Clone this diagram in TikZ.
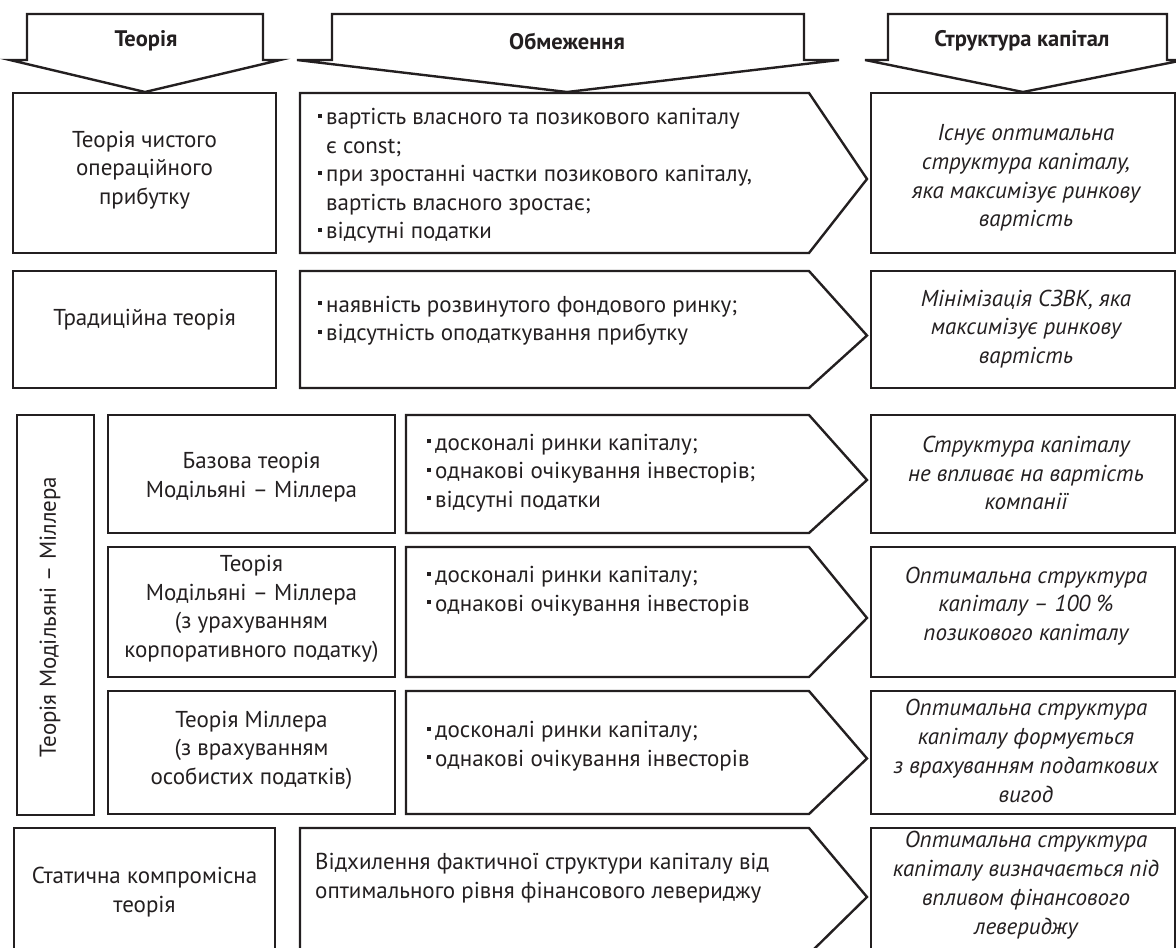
\documentclass[tikz,border=0pt]{standalone}
\usepackage{fontspec}
\setmainfont{PT Sans}
\definecolor{ink}{HTML}{231F20}
\tikzset{
  frame/.style={line width=2.4pt, line join=miter, draw=ink},
  body/.style={font=\fontsize{23}{28.5}\selectfont, text=ink, inner sep=0pt, align=center},
  lst/.style={font=\fontsize{23}{28.5}\selectfont, text=ink, inner sep=0pt, align=left, anchor=west},
  res/.style={font=\fontsize{23}{28.8}\selectfont\itshape, text=ink, inner sep=0pt, align=center},
  head/.style={font=\fontsize{22.5}{26}\selectfont\bfseries, text=ink, inner sep=0pt},
}
\newcommand{\bl}{\rule[0.3em]{4pt}{4pt}\hspace{4pt}}
\newcommand{\bi}{\hphantom{\bl}}
\newcommand{\penta}[3]{\draw[frame] (#1,#2) -- (809,#2) -- (867,{(#2+#3)/2+6}) -- (809,#3) -- (#1,#3) -- cycle;}

\begin{document}
\begin{tikzpicture}[x=1pt,y=-1pt]
\useasboundingbox (0,0) rectangle (1176,948);
\clip (0,0) rectangle (1176,948);

% header arrows
\draw[frame] (27,14) -- (263,14) -- (263,60) -- (280,60) -- (145,92) -- (10,60) -- (27,60) -- cycle;
\draw[frame] (332,14) -- (804,14) -- (804,60) -- (839,60) -- (567,92) -- (297,60) -- (332,60) -- cycle;
\draw[frame] (888,14) -- (1167,14) -- (1167,60) -- (1184,60) -- (1023,92) -- (865,60) -- (888,60) -- cycle;
\node[head] (h1) at (146,41) {Теорія};
\node[head] (h2) at (567,41) {Обмеження};
\node[head] (h3) at (1022,41) {Структура капітал};

% row 1
\draw[frame] (13,93) rectangle (276,253);
\penta{300}{93}{253}
\draw[frame] (871,93) rectangle (1175,253);
\node[body] (t1) at (144.5,170) {Теорія чистого\\операційного\\прибутку};
\node[lst] (r1) at (318,176) {\bl вартість власного та позикового капіталу\\\bi є const;\\\bl при зростанні частки позикового капіталу,\\\bi вартість власного зростає;\\\bl відсутні податки};
\node[res] (s1) at (1026,178) {Існує оптимальна\\структура капіталу,\\яка максимізує ринкову\\вартість};

% row 2
\draw[frame] (13,271) rectangle (276,388);
\penta{300}{271}{388}
\draw[frame] (871,271) rectangle (1175,388);
\node[body] (t2) at (144.5,320) {Традиційна теорія};
\node[lst] (r2) at (318,320.5) {\bl наявність розвинутого фондового ринку;\\\bl відсутність оподаткування прибутку};
\node[res] (s2) at (1026,329) {Мінімізація СЗВК, яка\\максимізує ринкову\\вартість};

% Modigliani-Miller group
\draw[frame] (17,415) rectangle (94,815);
\node[body, rotate=90] (mm) at (50,617) {Теорія Модільяні – Міллера};

% row a
\draw[frame] (108,415) rectangle (395,533);
\penta{406}{415}{533}
\draw[frame] (871,415) rectangle (1175,533);
\node[body] (ta) at (251.5,477) {Базова теорія\\Модільяні – Міллера};
\node[lst] (ra) at (427,473) {\bl досконалі ринки капіталу;\\\bl однакові очікування інвесторів;\\\bl відсутні податки};
\node[res] (sa) at (1026,473) {Структура капіталу\\не впливає на вартість\\компанії};

% row b
\draw[frame] (108,547) rectangle (395,677);
\penta{406}{547}{677}
\draw[frame] (871,547) rectangle (1175,677);
\node[body] (tb) at (251.5,609) {Теорія\\Модільяні – Міллера\\(з урахуванням\\корпоративного податку)};
\node[lst] (rb) at (427,591) {\bl досконалі ринки капіталу;\\\bl однакові очікування інвесторів};
\node[res] (sb) at (1026,606) {Оптимальна структура\\капіталу – 100 \%\\позикового капіталу};

% row c
\draw[frame] (108,691) rectangle (395,814);
\penta{406}{691}{814}
\draw[frame] (871,691) rectangle (1175,814);
\node[body] (tc) at (251.5,750) {Теорія Міллера\\(з врахуванням\\особистих податків)};
\node[lst] (rc) at (427,746) {\bl досконалі ринки капіталу;\\\bl однакові очікування інвесторів};
\node[res] (sc) at (1026,751) {Оптимальна структура\\капіталу формується\\з врахуванням податкових\\вигод};

% last row
\draw[frame] (14,828) rectangle (275,954);
\penta{300}{828}{954}
\draw[frame] (871,828) rectangle (1175,954);
\node[body] (td) at (144.5,892) {Статична компромісна\\теорія};
\node[lst] (rd) at (315,878) {Відхилення фактичної структури капіталу від\\оптимального рівня фінансового левериджу};
\node[res] (sd) at (1026,885) {Оптимальна структура\\капіталу визначається під\\впливом фінансового\\левериджу};
\end{tikzpicture}
\end{document}
